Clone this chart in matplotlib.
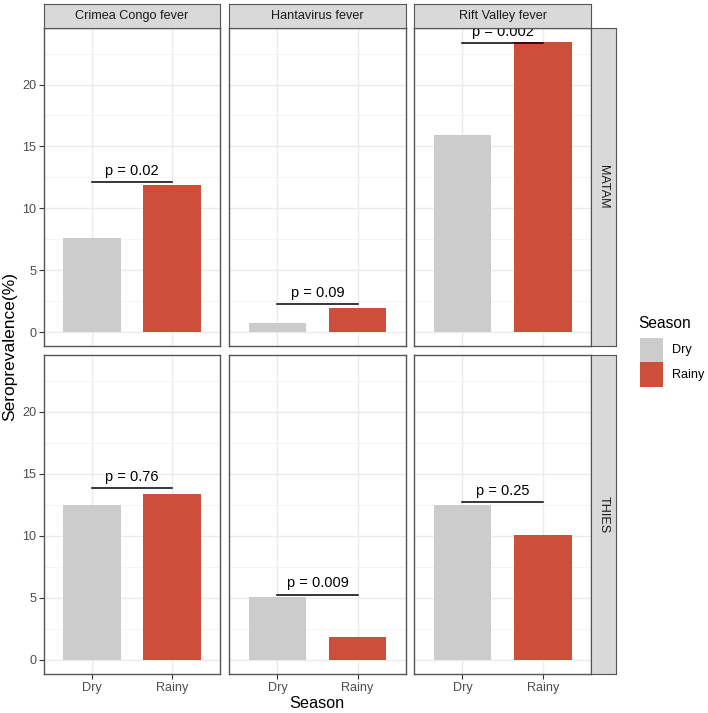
import numpy as np
import matplotlib
matplotlib.use("Agg")
import matplotlib.pyplot as plt
from matplotlib.patches import Rectangle

plt.rcParams['font.family'] = ['Liberation Sans', 'DejaVu Sans']

# data
diseases = ['Crimea Congo fever', 'Hantavirus fever', 'Rift Valley fever']
regions = ['MATAM', 'THIES']
seasons = ['Dry', 'Rainy']
matam_dry = [7.6, 0.7, 15.9]
matam_rainy = [11.85, 1.95, 23.4]
thies_dry = [12.5, 5.05, 12.5]
thies_rainy = [13.35, 1.85, 10.05]
matam_p = ['p = 0.02', 'p = 0.09', 'p = 0.002']
thies_p = ['p = 0.76', 'p = 0.009', 'p = 0.25']
matam_sig_y = [12.1, 2.25, 23.35]
thies_sig_y = [13.85, 5.25, 12.7]

values = {'MATAM': (matam_dry, matam_rainy, matam_p, matam_sig_y),
          'THIES': (thies_dry, thies_rainy, thies_p, thies_sig_y)}
colors = ['#CCCCCC', '#CD4F39']

W, H = 708, 713
fig = plt.figure(figsize=(W / 100, H / 100), dpi=100)

def rect(x0, y0, x1, y1):
    return [x0 / W, 1 - y1 / H, (x1 - x0) / W, (y1 - y0) / H]

cols = [(44, 220), (229.3, 405.6), (414.3, 591)]
rows = [(28, 346.5), (355.3, 674)]
border = '#555555'
small = 9.1

ymax = max(max(matam_rainy), max(matam_dry), max(thies_dry), max(thies_rainy))
ylo, yhi = -0.05 * ymax, ymax * 1.05

for r, reg in enumerate(regions):
    dry, rainy, ptxt, sig_y = values[reg]
    for c, dis in enumerate(diseases):
        ax = fig.add_axes(rect(cols[c][0], rows[r][0], cols[c][1], rows[r][1]))
        x = np.arange(2)
        ax.bar(x, [dry[c], rainy[c]], width=0.72, color=colors, zorder=2)
        ax.plot([0, 1], [sig_y[c], sig_y[c]], color='black', lw=1.1, zorder=3)
        ax.annotate(ptxt[c], (0.5, sig_y[c]), xytext=(0, 3), textcoords='offset points',
                    ha='center', va='bottom', fontsize=10.5, color='black', zorder=4)
        ax.set_xlim(-0.6, 1.6)
        ax.set_ylim(ylo, yhi)
        ax.set_yticks([0, 5, 10, 15, 20])
        ax.set_yticks([2.5, 7.5, 12.5, 17.5, 22.5], minor=True)
        ax.set_xticks(x)
        ax.grid(True, which='major', color='#EBEBEB', lw=1.0, zorder=0)
        ax.grid(True, which='minor', axis='y', color='#F2F2F2', lw=0.6, zorder=0)
        ax.set_axisbelow(True)
        for s in ax.spines.values():
            s.set_color(border)
            s.set_linewidth(1.0)
        ax.tick_params(which='minor', length=0)
        ax.tick_params(which='major', length=3.5, color='#333333', labelsize=small,
                       labelcolor='#4D4D4D', pad=2)
        if c == 0:
            ax.set_yticklabels(['0', '5', '10', '15', '20'])
        else:
            ax.tick_params(axis='y', length=0, labelleft=False)
        if r == 1:
            ax.set_xticklabels(seasons)
        else:
            ax.tick_params(axis='x', length=0, labelbottom=False)
        # top strips
        if r == 0:
            sax = fig.add_axes(rect(cols[c][0], 4, cols[c][1], 28))
            sax.set_facecolor('#D9D9D9')
            sax.set_xticks([]); sax.set_yticks([])
            for s in sax.spines.values():
                s.set_color(border)
            sax.text(0.5, 0.5, dis, ha='center', va='center', fontsize=small,
                     color='#1A1A1A', transform=sax.transAxes)
    # right strips
    sax = fig.add_axes(rect(591, rows[r][0], 615.5, rows[r][1]))
    sax.set_facecolor('#D9D9D9')
    sax.set_xticks([]); sax.set_yticks([])
    for s in sax.spines.values():
        s.set_color(border)
    sax.text(0.5, 0.5, reg, ha='center', va='center', fontsize=small, rotation=-90,
             color='#1A1A1A', transform=sax.transAxes)

fig.text(316.5 / W, 1 - 703 / H, 'Season', ha='center', va='center', fontsize=11.7)
fig.text(10 / W, 1 - 346 / H, 'Seroprevalence(%)', ha='center', va='center',
         rotation=90, fontsize=12.5)

# legend
fig.text(638 / W, 1 - 323 / H, 'Season', ha='left', va='center', fontsize=11.2)
for i, (lab, col) in enumerate(zip(seasons, colors)):
    y0 = 338 + i * 24.5
    fig.add_artist(Rectangle((640 / W, 1 - (y0 + 24.5) / H), 23 / W, 24.5 / H,
                             transform=fig.transFigure, facecolor=col, edgecolor='none'))
    fig.text(672 / W, 1 - (y0 + 12) / H, lab, ha='left', va='center', fontsize=9.1)

fig.savefig('out.png', dpi=100)
